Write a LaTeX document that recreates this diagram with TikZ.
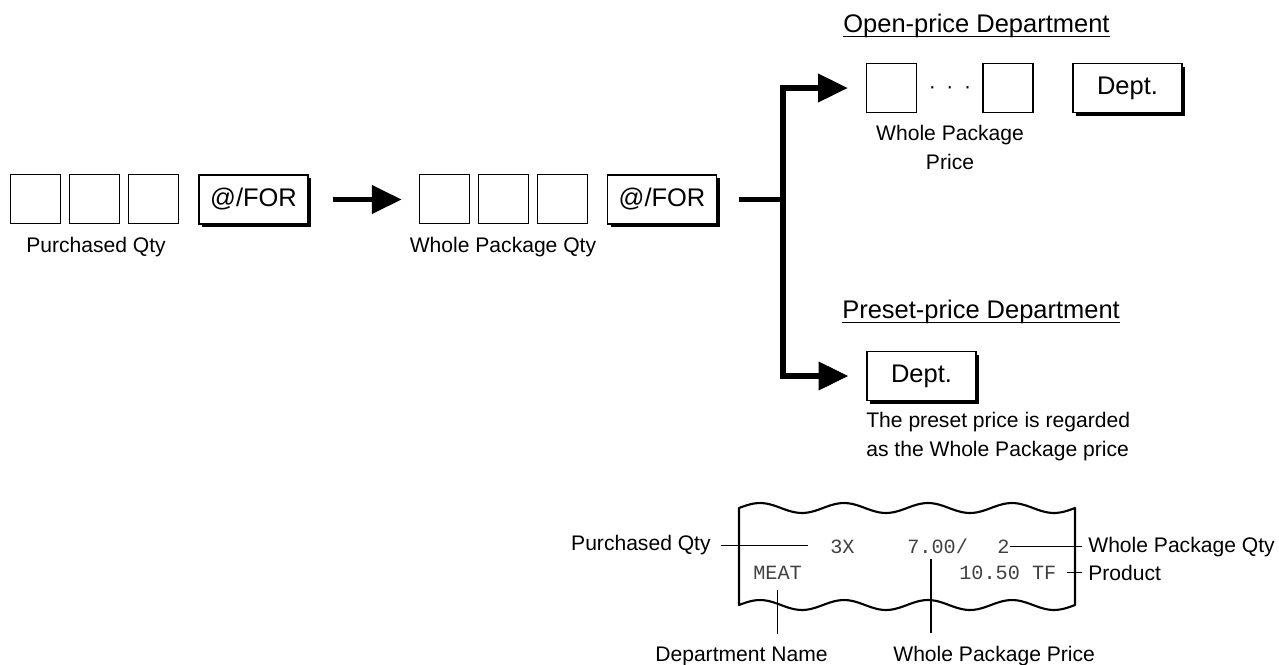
\documentclass[tikz,border=0pt]{standalone}
\usepackage{fontspec}
\setmainfont{Liberation Sans}
\newfontfamily\receiptfont{Liberation Mono}
\usetikzlibrary{arrows.meta,shadows}

\begin{document}
\begin{tikzpicture}[
  x=0.02cm,
  y=-0.02cm,
  digit/.style={draw=black, line width=1.1pt, minimum width=1.0cm, minimum height=0.98cm, inner sep=0pt},
  keycap/.style={draw=black, line width=1.1pt, fill=white, minimum width=2.18cm, minimum height=0.98cm, inner sep=0pt,
    font=\fontsize{14.5}{17}\selectfont,
    drop shadow={shadow xshift=1.8pt, shadow yshift=-1.8pt, fill=black, opacity=1}},
  caption/.style={font=\fontsize{12}{16}\selectfont, inner sep=0pt},
  heading/.style={font=\fontsize{14.5}{17}\selectfont, inner sep=0pt, anchor=base west},
  flow/.style={line width=3.4pt, -{Triangle[length=17pt, width=15.5pt]}},
  tape/.style={line width=1.2pt, line join=round},
  leader/.style={line width=0.6pt},
  printout/.style={font=\receiptfont\fontsize{11.5}{13}\selectfont, text=black!75, inner sep=0pt, anchor=base west}
]

  \useasboundingbox (0,0) rectangle (1279,664);

  % Purchased quantity
  \foreach \i/\x in {1/35.5, 2/94.5, 3/153.5}
    \node[digit] (pq\i) at (\x,199) {};
  \node[keycap] (for1) at (253.5,199.5) {@/FOR};
  \node[caption] (pqlabel) at (96,247) {Purchased Qty};

  % Whole package quantity
  \foreach \i/\x in {1/444.5, 2/503.5, 3/562.5}
    \node[digit] (wq\i) at (\x,199) {};
  \node[keycap] (for2) at (662,199.5) {@/FOR};
  \node[caption] (wqlabel) at (503,247) {Whole Package Qty};

  \draw[flow, shorten <=13.5pt, shorten >=9.5pt] (for1.east) -- (for1.east -| wq1.west);

  % Branch to both kinds of department
  \coordinate (split) at (783,199.5);
  \draw[line width=3.4pt, shorten <=12.5pt] (for2.east) -- (split);

  % Open-price department
  \node[heading] (ophead) at (843,32.3) {Open-price Department};
  \draw[line width=0.85pt] ([yshift=-2.5pt]ophead.base west) -- ([yshift=-2.5pt]ophead.base east);
  \node[digit] (op1) at (891.5,88) {};
  \node[digit] (op2) at (1008,88) {};
  \node[caption] (opdots) at (950,90) {·\hspace{6pt}·\hspace{6pt}·};
  \node[keycap] (opdept) at (1127.5,88) {Dept.};
  \node[caption, align=center] (oplabel) at (950,147.5) {Whole Package\\Price};

  % Preset-price department
  \node[heading] (prhead) at (842,318) {Preset-price Department};
  \draw[line width=0.85pt] ([yshift=-2.5pt]prhead.base west) -- ([yshift=-2.5pt]prhead.base east);
  \node[keycap] (prdept) at (921.5,376) {Dept.};
  \node[caption, align=left, anchor=west] (prlabel) at (866,436.5) {The preset price is regarded\\as the Whole Package price};

  \draw[flow, shorten >=10pt] (split) |- (op1.west);
  \draw[flow, shorten >=10pt] (split) |- (prdept.west);

  % Printed receipt
  \draw[tape] plot[domain=739:1075, samples=90, smooth] (\x, {508-5*sin(4.285714*(\x-739))})
    -- plot[domain=1075:739, samples=90, smooth] (\x, {605-5*sin(4.285714*(\x-739))}) -- cycle;

  \node[printout] (qty) at (830,553) {3X};
  \node[printout] (unit) at (907,553) {7.00/};
  \node[printout] (pack) at (997,553) {2};
  \node[printout] (dept) at (753,579) {MEAT};
  \node[printout] (amount) at (959,579) {10.50 TF};
  \coordinate (unitmark) at (931,559);

  \node[caption, anchor=base east] (rpq) at (711,550.5) {Purchased Qty};
  \node[caption, anchor=base west] (rwq) at (1088,552.5) {Whole Package Qty};
  \node[caption, anchor=base west] (rprod) at (1088,580) {Product};
  \node[caption, anchor=base west] (rdn) at (655,661) {Department Name};
  \node[caption, anchor=base west] (rwp) at (893,661) {Whole Package Price};

  \draw[leader, shorten <=5.7pt, shorten >=12.5pt] (rpq.east) -- (rpq.east -| qty.west);
  \draw[leader, shorten >=3.4pt] (pack.east) -- (pack.east -| rwq.west);
  \draw[leader, shorten <=5.7pt, shorten >=3.4pt] (amount.east) -- (amount.east -| rprod.west);
  \draw[leader, shorten <=6.2pt, shorten >=7.1pt] (dept.south) -- (dept.south |- rdn.north);
  \draw[leader, shorten >=7.1pt] (unitmark) -- (unitmark |- rwp.north);

\end{tikzpicture}
\end{document}
